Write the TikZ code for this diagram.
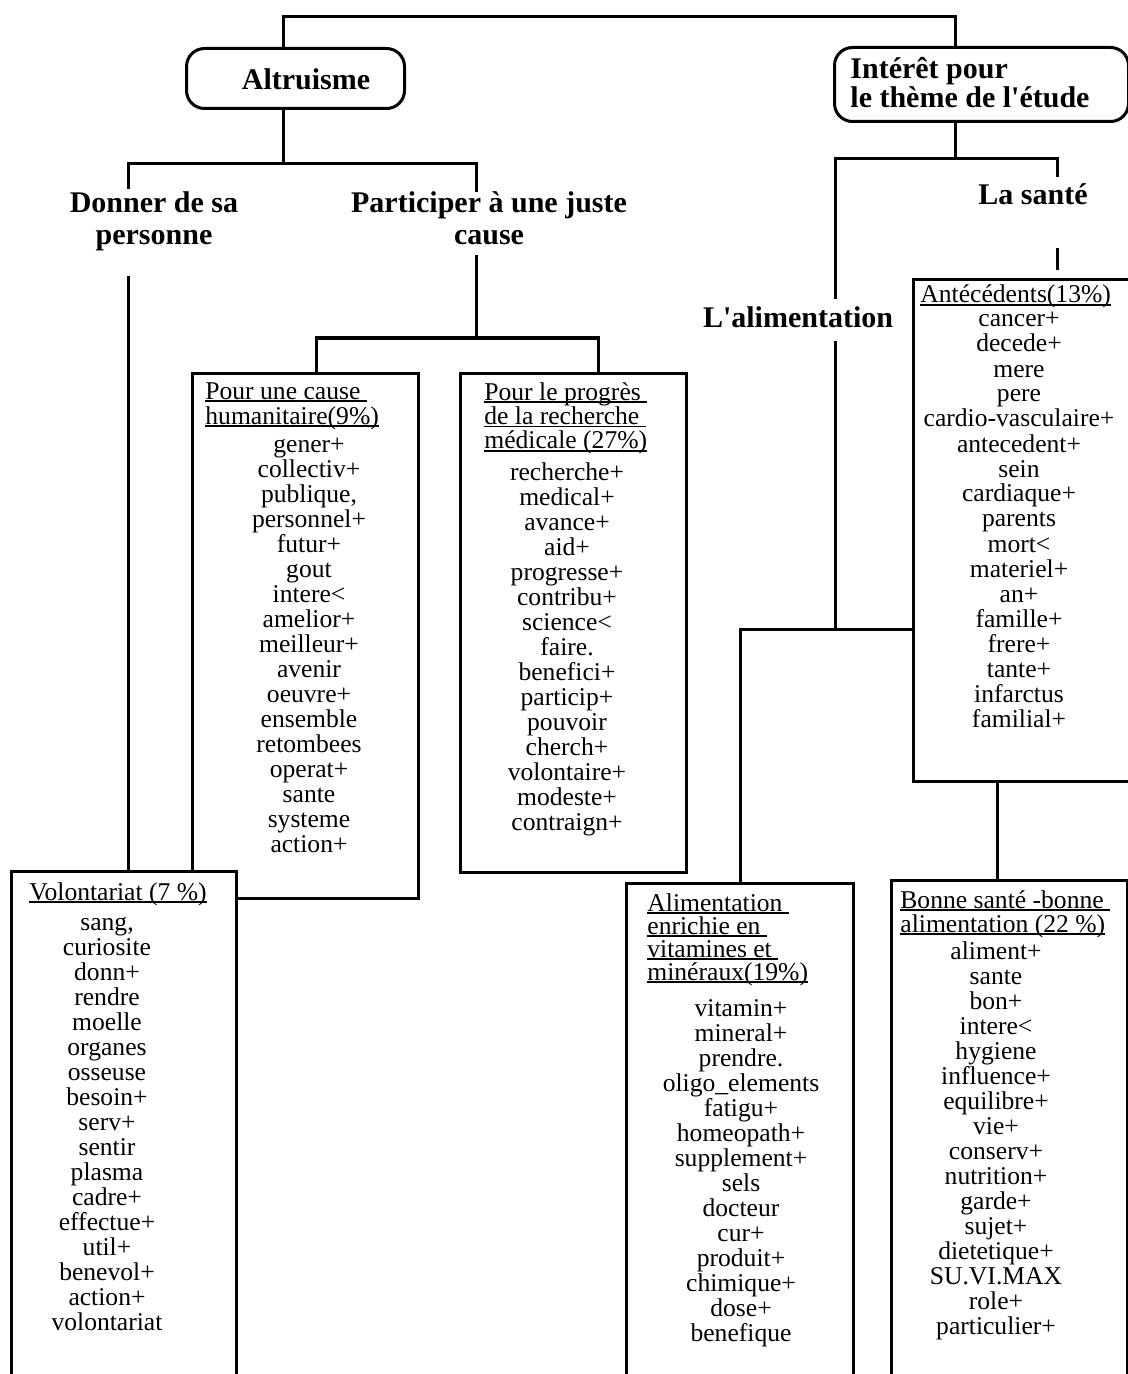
\documentclass[tikz,border=0pt]{standalone}
\usepackage{fontspec}
\setmainfont{Liberation Serif}

% underline drawn at a fixed distance below the baseline
\newsavebox\ulinebox
\newcommand\undln[1]{\leavevmode\setbox\ulinebox\hbox{#1}%
  \rlap{\vrule width\wd\ulinebox height -0.65pt depth 1.4pt}\box\ulinebox}

\begin{document}
\lineskiplimit=-20pt\relax
\normallineskiplimit=-20pt\relax
\begin{tikzpicture}[x=0.5pt, y=-0.5pt,
  wire/.style={draw, line width=1.5pt},
  pill/.style={draw, line width=1.5pt, rounded corners=9pt, anchor=north west, inner sep=0pt},
  listbox/.style={draw, fill=white, line width=1.5pt, anchor=north west, inner sep=0pt},
  headtxt/.style={font=\fontsize{15}{16}\selectfont\bfseries, inner sep=0pt, align=flush center},
  titletxt/.style={font=\fontsize{12.8}{12.5}\selectfont,
                   inner sep=0pt, align=flush left, text width=115pt, anchor=base west},
  itemtxt/.style={font=\fontsize{12.8}{12.5}\selectfont,
                  inner sep=0pt, align=flush center, text width=120pt, anchor=base}]

\useasboundingbox (0,0) rectangle (1128,1374);
\clip (0,0) rectangle (1128,1374);

% ---- top-level themes
\node[pill, minimum width=109pt, minimum height=30pt] (alt) at (185,47) {};
\node[headtxt, anchor=base] (alt-t) at (306,90) {Altruisme};
\node[pill, minimum width=147pt, minimum height=37pt] (int) at (833,46) {};
\node[headtxt, font=\fontsize{15}{14.5}\selectfont\bfseries, align=flush left, text width=135pt,
      anchor=base west] (int-t) at (850,79) {Intérêt pour\\le thème de l\textquotesingle étude};

% ---- sub-themes
\node[headtxt, text width=100pt, anchor=base] (don) at (154,213) {Donner de sa\\personne};
\node[headtxt, text width=150pt, anchor=base] (part) at (489,213) {Participer à une juste\\cause};
\node[headtxt, anchor=base] (sante) at (1033,205) {La santé};
\node[headtxt, anchor=base] (alim) at (798,328) {L\textquotesingle alimentation};

% ---- word-class boxes (the Volontariat box is drawn over the corner of the humanitarian one)
\node[listbox, minimum width=113pt, minimum height=262.5pt] (hum) at (191,372) {};
\node[titletxt] (hum-h) at (205,399) {\undln{Pour une cause~}\\\undln{humanitaire(9\%)}};
\node[itemtxt] (hum-l) at (309,452) {gener+\\collectiv+\\publique,\\personnel+\\futur+\\gout\\intere<\\amelior+\\meilleur+\\avenir\\oeuvre+\\ensemble\\retombees\\operat+\\sante\\systeme\\action+};

\node[listbox, minimum width=113pt, minimum height=249.5pt] (rec) at (459,372) {};
\node[titletxt, font=\fontsize{12.8}{12.25}\selectfont] (rec-h) at (484,400) {\undln{Pour le progrès~}\\\undln{de la recherche~}\\\undln{médicale (27\%)}};
\node[itemtxt] (rec-l) at (567,480) {recherche+\\medical+\\avance+\\aid+\\progresse+\\contribu+\\science<\\faire.\\benefici+\\particip+\\pouvoir\\cherch+\\volontaire+\\modeste+\\contraign+};

\node[listbox, minimum width=112.5pt, minimum height=280pt] (vol) at (10,870) {};
\node[titletxt] (vol-h) at (29,900) {\undln{Volontariat (7 \%)}};
\node[itemtxt] (vol-l) at (107,930) {sang,\\curiosite\\donn+\\rendre\\moelle\\organes\\osseuse\\besoin+\\serv+\\sentir\\plasma\\cadre+\\effectue+\\util+\\benevol+\\action+\\volontariat};

\node[listbox, minimum width=120pt, minimum height=251pt] (ant) at (912,278) {};
\node[titletxt] (ant-h) at (920,303) {\undln{Antécédents(13\%)}};
\node[itemtxt] (ant-l) at (1019,327) {cancer+\\decede+\\mere\\pere\\cardio-vasculaire+\\antecedent+\\sein\\cardiaque+\\parents\\mort<\\materiel+\\an+\\famille+\\frere+\\tante+\\infarctus\\familial+};

\node[listbox, minimum width=113.5pt, minimum height=275pt] (ali) at (625,882) {};
\node[titletxt, font=\fontsize{12.8}{11.5}\selectfont] (ali-h) at (647,911) {\undln{Alimentation~}\\\undln{enrichie en~}\\\undln{vitamines et~}\\\undln{minéraux(19\%)}};
\node[itemtxt] (ali-l) at (741,1016) {vitamin+\\mineral+\\prendre.\\oligo\_elements\\fatigu+\\homeopath+\\supplement+\\sels\\docteur\\cur+\\produit+\\chimique+\\dose+\\benefique};

\node[listbox, minimum width=118pt, minimum height=275pt] (bon) at (890,879) {};
\node[titletxt, font=\fontsize{12.8}{12}\selectfont] (bon-h) at (900,908) {\undln{Bonne santé -bonne~}\\\undln{alimentation (22 \%)}};
\node[itemtxt] (bon-l) at (996,959) {aliment+\\sante\\bon+\\intere<\\hygiene\\influence+\\equilibre+\\vie+\\conserv+\\nutrition+\\garde+\\sujet+\\dietetique+\\SU.VI.MAX\\role+\\particulier+};

% ---- branch columns and junctions
\coordinate (colA) at (283,17);
\coordinate (colI) at (955,17);
\coordinate (jA) at (283,164);
\coordinate (colD) at (128,164);
\coordinate (colP) at (476,164);
\coordinate (jC) at (476,338);
\coordinate (colH) at (316,338);
\coordinate (colR) at (598,338);
\coordinate (jI) at (955,159);
\coordinate (colL) at (835,159);
\coordinate (colS) at (1057,159);
\coordinate (jL) at (835,629);
\coordinate (colV) at (740,629);
\coordinate (colB) at (997,800);

% ---- connectors
\draw[wire] (colA |- alt.north) -- (colA) -- (colI) -- (colI |- int.north);

\draw[wire] (colA |- alt.south) -- (jA);
\draw[wire, shorten <=1.5pt] (colD |- don.north) -- (colD) -- (colP) -- (colP |- part.north);
\draw[wire, shorten <=12pt] (colD |- don.south) -- (colD |- vol.north);
\draw[wire, shorten <=4.5pt] (colP |- part.south) -- (jC);
\draw[wire] (colH |- hum.north) -- (colH) -- (colR) -- (colR |- rec.north);

\draw[wire] (colI |- int.south) -- (jI);
\draw[wire, shorten <=4pt, shorten >=3.5pt] (colL |- alim.north) -- (colL) -- (colS) -- (colS |- sante.north);
\draw[wire, shorten <=21pt, shorten >=4pt] (colS |- sante.south) -- (colS |- ant.north);
\draw[wire, shorten <=6pt] (colL |- alim.south) -- (jL);
\draw[wire] (ant.west |- jL) -- (colV) -- (colV |- ali.north);
\draw[wire] (colB |- ant.south) -- (colB |- bon.north);

\end{tikzpicture}
\end{document}
